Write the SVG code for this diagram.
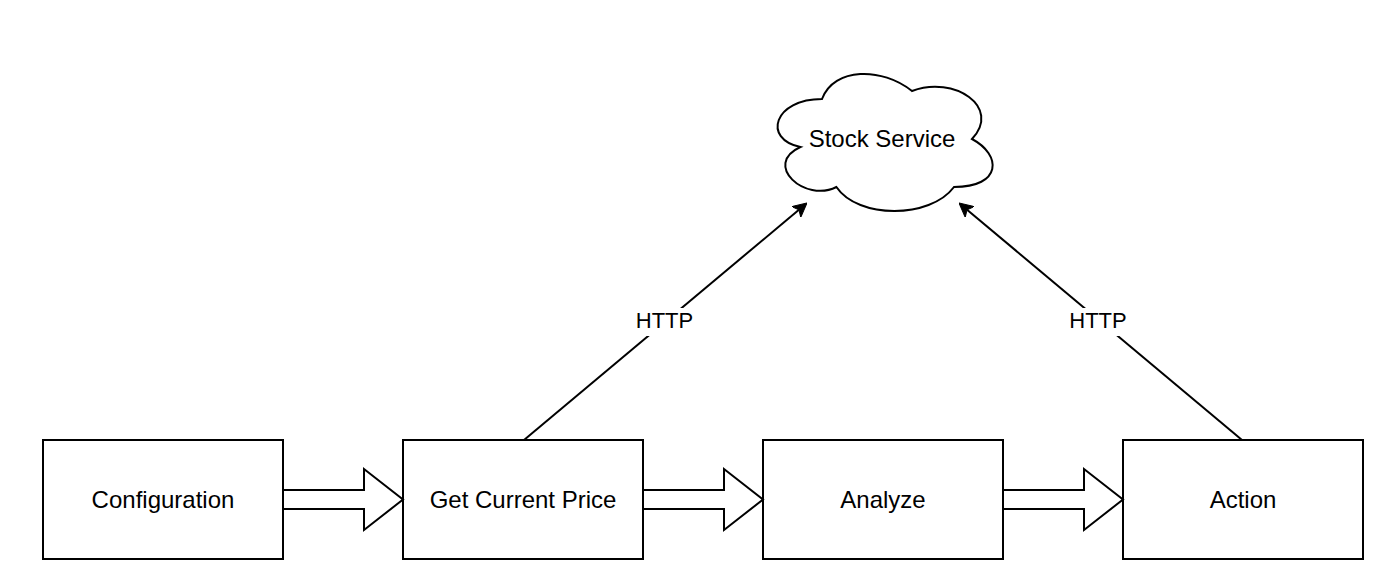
<svg xmlns="http://www.w3.org/2000/svg" width="1384" height="588" viewBox="0 0 1384 588">
  <style>
    .box { fill: #ffffff; stroke: #000000; stroke-width: 2; }
    .lbl { font-family: "Liberation Sans", Arial, sans-serif; font-size: 24px; fill: #000000; text-anchor: middle; }
    .elbl { font-family: "Liberation Sans", Arial, sans-serif; font-size: 22px; fill: #000000; text-anchor: middle; }
    .edge { fill: none; stroke: #000000; stroke-width: 2; }
    .block { fill: #ffffff; stroke: #000000; stroke-width: 2; stroke-linejoin: miter; }
  </style>
  <defs>
    <marker id="classic" viewBox="0 0 14 14" markerWidth="14" markerHeight="14" refX="3.5" refY="7" orient="auto" markerUnits="userSpaceOnUse">
      <path d="M0,0 L14,7 L0,14 L3.5,7 Z" fill="#000000" stroke="#000000" stroke-width="1"/>
    </marker>
  </defs>
  <rect width="1384" height="588" fill="#ffffff"/>

  <g id="stock-service">
    <path class="box" d="M822,99 C774,99 762,139 800.4,147 C762,164.6 805.2,203 836.4,187 C858,219 930,219 954,187 C1002,187 1002,155 972,139 C1002,107 954,75 912,91 C882,67 834,67 822,99 Z"/>
    <text class="lbl" x="882" y="147">Stock Service</text>
  </g>

  <g id="configuration">
    <rect class="box" x="43" y="440" width="240" height="119"/>
    <text class="lbl" x="163" y="508">Configuration</text>
  </g>
  <g id="get-current-price">
    <rect class="box" x="403" y="440" width="240" height="119"/>
    <text class="lbl" x="523" y="508">Get Current Price</text>
  </g>
  <g id="analyze">
    <rect class="box" x="763" y="440" width="240" height="119"/>
    <text class="lbl" x="883" y="508">Analyze</text>
  </g>
  <g id="action">
    <rect class="box" x="1123" y="440" width="240" height="119"/>
    <text class="lbl" x="1243" y="508">Action</text>
  </g>

  <g id="connectors">
    <polygon class="block" points="283,490 364,490 364,469 403,499.5 364,530 364,509 283,509"/>
    <polygon class="block" points="643,490 724,490 724,469 763,499.5 724,530 724,509 643,509"/>
    <polygon class="block" points="1003,490 1084,490 1084,469 1123,499.5 1084,530 1084,509 1003,509"/>

    <line class="edge" x1="524" y1="440" x2="798.95" y2="209.74" marker-end="url(#classic)"/>
    <line class="edge" x1="1242" y1="440" x2="967.04" y2="209.75" marker-end="url(#classic)"/>

    <rect x="634" y="308" width="60" height="28" fill="#ffffff"/>
    <text class="elbl" x="664.5" y="328">HTTP</text>
    <rect x="1068" y="308" width="60" height="28" fill="#ffffff"/>
    <text class="elbl" x="1098" y="328">HTTP</text>
  </g>
</svg>
